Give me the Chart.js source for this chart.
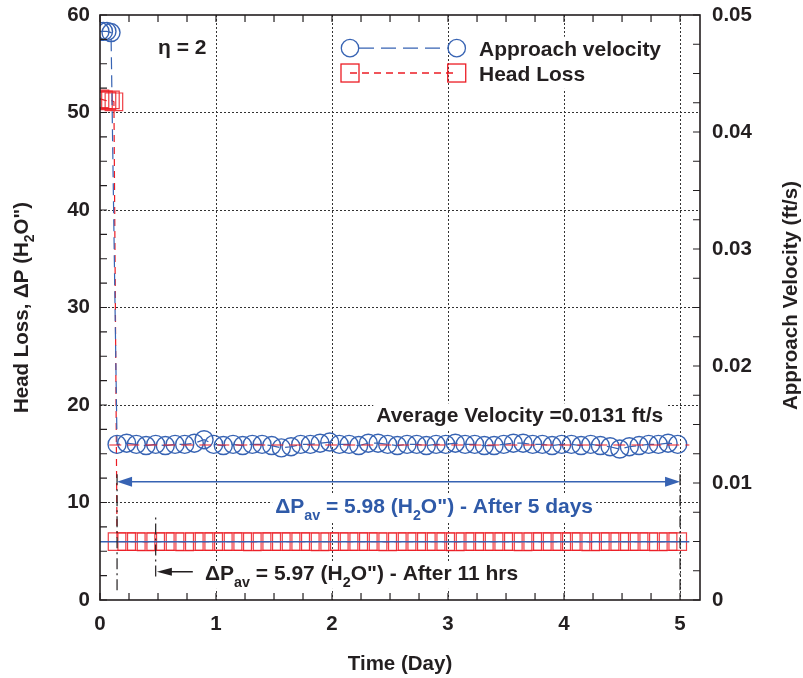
<!DOCTYPE html>
<html>
<head>
<meta charset="utf-8">
<script src="https://cdn.jsdelivr.net/npm/chart.js@4.4.1/dist/chart.umd.min.js"></script>
<style>
  html, body { margin: 0; padding: 0; background: #fff; }
  canvas { display: block; }
</style>
</head>
<body>
<canvas id="chart" width="803" height="678"></canvas>
<script>
//-----------------------------------------------------------------------------
// data
//-----------------------------------------------------------------------------
// start-up readings, before the flow settles
const startVelDays   = [0, 0.03, 0.06, 0.095];
const startVelocity  = [0.0486, 0.0486, 0.0486, 0.0485];
const startLossDays  = [0, 0.03, 0.06, 0.09, 0.12];
const startHeadLoss  = [51.4, 51.3, 51.2, 51.3, 51.1];

// steady readings, roughly every 2 hrs
const days = [
  0.147, 0.230, 0.313, 0.397, 0.480, 0.563, 0.647, 0.730, 0.813, 0.897,
  0.980, 1.063, 1.147, 1.230, 1.313, 1.397, 1.480, 1.563, 1.647, 1.730,
  1.813, 1.897, 1.980, 2.063, 2.147, 2.230, 2.313, 2.397, 2.480, 2.563,
  2.647, 2.730, 2.813, 2.897, 2.980, 3.063, 3.147, 3.230, 3.313, 3.397,
  3.480, 3.563, 3.647, 3.730, 3.813, 3.897, 3.980, 4.063, 4.147, 4.230,
  4.313, 4.397, 4.480, 4.563, 4.647, 4.730, 4.813, 4.897, 4.980];
const velocity = [
  0.0133, 0.0134, 0.0133, 0.0132, 0.0133, 0.0132, 0.0133, 0.0133, 0.0134, 0.0137,
  0.0133, 0.0132, 0.0133, 0.0132, 0.0133, 0.0133, 0.0132, 0.0130, 0.0131, 0.0133,
  0.0133, 0.0134, 0.0135, 0.0133, 0.0133, 0.0132, 0.0134, 0.0134, 0.0133, 0.0132,
  0.0133, 0.0133, 0.0132, 0.0133, 0.0133, 0.0134, 0.0133, 0.0133, 0.0132, 0.0132,
  0.0133, 0.0134, 0.0134, 0.0133, 0.0133, 0.0132, 0.0133, 0.0133, 0.0132, 0.0133,
  0.0132, 0.0131, 0.0129, 0.0131, 0.0132, 0.0133, 0.0133, 0.0134, 0.0133];
const headLoss = [
  5.99, 5.98, 5.98, 5.97, 5.98, 5.99, 5.98, 5.97, 5.98, 5.98,
  5.99, 5.98, 5.98, 5.98, 5.97, 5.98, 5.99, 5.98, 5.98, 5.98,
  5.98, 5.97, 5.98, 5.98, 5.99, 5.98, 5.98, 5.98, 5.97, 5.98,
  5.98, 5.99, 5.98, 5.98, 5.98, 5.97, 5.98, 5.98, 5.99, 5.98,
  5.98, 5.98, 5.97, 5.98, 5.98, 5.99, 5.98, 5.98, 5.98, 5.97,
  5.98, 5.98, 5.99, 5.98, 5.98, 5.98, 5.97, 5.98, 5.98];

// average lines
const avgVelLine  = { from: 0.08, to: 5.08, value: 0.01325 };
const avgLossLine = { from: 0.0,  to: 5.08, value: 5.98 };

// tick labels
const dayLabels      = ["0", "1", "2", "3", "4", "5"];
const headLossLabels = ["0", "10", "20", "30", "40", "50", "60"];
const velocityLabels = ["0", "0.01", "0.02", "0.03", "0.04", "0.05"];

// annotation marks, in data units (days / head loss)
const markerLines = [ [0.147, 1.0, 13.0], [0.48, 2.4, 8.5], [5.0, 1.0, 13.4] ];
const spanArrow   = { from: 0.147, to: 5.0, y: 12.13 };
const hrsArrow    = { tail: 0.80, tip: 0.49, y: 2.9 };

//-----------------------------------------------------------------------------
const ink  = "#231f20";
const blue = "#3763b3";
const blueText = "#2f5aa8";
const red  = "#ec1c24";
const FONT = '"Liberation Sans", Arial, Helvetica, sans-serif';
const f = (sz) => `bold ${sz}px ${FONT}`;

const pts = (xs, ys) => xs.map((x, i) => ({ x, y: ys[i] }));
const isMajor = (v, step) => Math.abs(v / step - Math.round(v / step)) < 1e-6;

// text with subscripts, parts = [[text, isSub], ...]; y is the baseline
function richWidth(ctx, parts, sz) {
    let w = 0;
    parts.forEach(([t, sub]) => { ctx.font = f(sub ? sz * 0.68 : sz); w += ctx.measureText(t).width; });
    return w;
}
function drawRich(ctx, parts, x, y, sz, color, align, boxed) {
    const w = richWidth(ctx, parts, sz);
    let cx = align === "center" ? x - w / 2 : align === "right" ? x - w : x;
    if (boxed) {
        ctx.fillStyle = "#fff";
        ctx.fillRect(cx - 3, y - sz * 0.9, w + 6, sz * 1.3);
    }
    ctx.fillStyle = color;
    ctx.textAlign = "left";
    ctx.textBaseline = "alphabetic";
    parts.forEach(([t, sub]) => {
        ctx.font = f(sub ? sz * 0.68 : sz);
        ctx.fillText(t, cx, y + (sub ? sz * 0.3 : 0));
        cx += ctx.measureText(t).width;
    });
}
function arrowHead(ctx, x, y, dir, len, half, color) {
    ctx.fillStyle = color;
    ctx.beginPath();
    ctx.moveTo(x, y);
    ctx.lineTo(x - dir * len, y - half);
    ctx.lineTo(x - dir * len, y + half);
    ctx.closePath();
    ctx.fill();
}

//-----------------------------------------------------------------------------
// frame, inward ticks, notes, legend, axis titles
//-----------------------------------------------------------------------------
const decorPlugin = {
    id: "decor",
    afterDatasetsDraw(chart) {
        const { ctx, scales } = chart;
        const X = scales.x, Y = scales.y;
        const px = (d) => X.getPixelForValue(d);
        const py = (v) => Y.getPixelForValue(v);
        ctx.save();

        // dash-dot marker lines
        ctx.strokeStyle = ink;
        ctx.lineWidth = 1.2;
        ctx.setLineDash([11, 4, 2, 4]);
        markerLines.forEach(([d, y0, y1]) => {
            ctx.beginPath();
            ctx.moveTo(px(d), py(y0));
            ctx.lineTo(px(d), py(y1));
            ctx.stroke();
        });
        ctx.setLineDash([]);

        // 5 day span arrow
        ctx.strokeStyle = blue;
        ctx.lineWidth = 1.5;
        ctx.beginPath();
        ctx.moveTo(px(spanArrow.from) + 4, py(spanArrow.y));
        ctx.lineTo(px(spanArrow.to) - 4, py(spanArrow.y));
        ctx.stroke();
        arrowHead(ctx, px(spanArrow.from), py(spanArrow.y), -1, 15, 5, blue);
        arrowHead(ctx, px(spanArrow.to), py(spanArrow.y), 1, 15, 5, blue);

        // 11 hrs arrow
        ctx.strokeStyle = ink;
        ctx.lineWidth = 1.3;
        ctx.beginPath();
        ctx.moveTo(px(hrsArrow.tail), py(hrsArrow.y));
        ctx.lineTo(px(hrsArrow.tip) + 4, py(hrsArrow.y));
        ctx.stroke();
        arrowHead(ctx, px(hrsArrow.tip), py(hrsArrow.y), -1, 15, 4, ink);

        // notes
        drawRich(ctx, [["Average Velocity =0.0131 ft/s", false]], px(4.855), py(19.0) + 7.5, 21, ink, "right", true);
        drawRich(ctx, [["\u0394P", false], ["av", true], [" = 5.98 (H", false], ["2", true], ["O\") - After 5 days", false]],
            px(1.51), py(9.65) + 7.5, 21, blueText, "left", true);
        drawRich(ctx, [["\u0394P", false], ["av", true], [" = 5.97 (H", false], ["2", true], ["O\") - After 11 hrs", false]],
            px(0.905), py(2.77) + 7.5, 21, ink, "left", true);
        drawRich(ctx, [["\u03b7 = 2", false]], px(0.5), py(56.8) + 7.5, 21, ink, "left", true);

        // legend
        const lx0 = px(2.155), lx1 = px(3.075), tx = px(3.267);
        const r1 = py(56.6), r2 = py(54.05);
        ctx.lineWidth = 1.3;
        ctx.strokeStyle = blue;
        ctx.setLineDash([15, 7]);
        ctx.beginPath(); ctx.moveTo(lx0 + 9, r1); ctx.lineTo(lx1 - 9, r1); ctx.stroke();
        ctx.setLineDash([]);
        [lx0, lx1].forEach(x => { ctx.beginPath(); ctx.arc(x, r1, 8.7, 0, Math.PI * 2); ctx.stroke(); });
        ctx.strokeStyle = red;
        ctx.setLineDash([7, 5]);
        ctx.beginPath(); ctx.moveTo(lx0, r2); ctx.lineTo(lx1, r2); ctx.stroke();
        ctx.setLineDash([]);
        [lx0, lx1].forEach(x => ctx.strokeRect(x - 9, r2 - 9, 18, 18));
        drawRich(ctx, [["Approach velocity", false]], tx, r1 + 7.5, 21, ink, "left", true);
        drawRich(ctx, [["Head Loss", false]], tx, r2 + 7.5, 21, ink, "left", true);

        ctx.restore();
    },
    afterDraw(chart) {
        const { ctx, chartArea: a, scales } = chart;
        ctx.save();
        // frame
        ctx.strokeStyle = ink;
        ctx.lineWidth = 1.6;
        ctx.strokeRect(a.left, a.top, a.right - a.left, a.bottom - a.top);
        // inward ticks on all four sides
        const tl = 7;
        ctx.lineWidth = 1.2;
        ctx.beginPath();
        scales.x.ticks.forEach(t => {
            const x = scales.x.getPixelForValue(t.value);
            ctx.moveTo(x, a.bottom); ctx.lineTo(x, a.bottom - tl);
            ctx.moveTo(x, a.top);    ctx.lineTo(x, a.top + tl);
        });
        scales.y.ticks.forEach(t => {
            const y = scales.y.getPixelForValue(t.value);
            ctx.moveTo(a.left, y); ctx.lineTo(a.left + tl, y);
        });
        scales.y2.ticks.forEach(t => {
            const y = scales.y2.getPixelForValue(t.value);
            ctx.moveTo(a.right, y); ctx.lineTo(a.right - tl, y);
        });
        ctx.stroke();

        // axis titles
        drawRich(ctx, [["Time (Day)", false]], (a.left + a.right) / 2, 670, 20.5, ink, "center", false);
        ctx.save();
        ctx.translate(28, (a.top + a.bottom) / 2);
        ctx.rotate(-Math.PI / 2);
        drawRich(ctx, [["Head Loss, \u0394P (H", false], ["2", true], ["O\")", false]], 0, 0, 20.5, ink, "center", false);
        ctx.restore();
        ctx.save();
        ctx.translate(797, (a.top + a.bottom) / 2 - 12);
        ctx.rotate(-Math.PI / 2);
        drawRich(ctx, [["Approach Velocity (ft/s)", false]], 0, 0, 20.5, ink, "center", false);
        ctx.restore();
        ctx.restore();
    }
};

//-----------------------------------------------------------------------------
const gridColor = (step, lo, hi) => (c) =>
    (c.tick && isMajor(c.tick.value, step) && c.tick.value > lo && c.tick.value < hi) ? "#333" : "transparent";
const tickFont = { family: FONT, size: 20.5, weight: "bold" };
// fixed box sizes so the plot area lands where the picture has it
const fixSide = (w) => (s) => { s.width = w; s.paddingTop = 0; s.paddingBottom = 0; };

const ctx = document.getElementById("chart").getContext("2d");
new Chart(ctx, {
    type: "scatter",
    data: {
        datasets: [
            {   // average velocity line
                data: [{ x: avgVelLine.from, y: avgVelLine.value }, { x: avgVelLine.to, y: avgVelLine.value }],
                yAxisID: "y2", showLine: true, pointRadius: 0,
                borderColor: red, borderWidth: 1.2, borderDash: [12, 6]
            },
            {   // average head loss line
                data: [{ x: avgLossLine.from, y: avgLossLine.value }, { x: avgLossLine.to, y: avgLossLine.value }],
                yAxisID: "y", showLine: true, pointRadius: 0,
                borderColor: blue, borderWidth: 1.5
            },
            {
                label: "Approach velocity",
                data: pts(startVelDays.concat(days), startVelocity.concat(velocity)),
                yAxisID: "y2", showLine: true,
                borderColor: blue, borderWidth: 1.2, borderDash: [12, 6],
                pointStyle: "circle", pointRadius: 9, pointBorderWidth: 1.4,
                pointBorderColor: blue, pointBackgroundColor: "transparent"
            },
            {
                label: "Head Loss",
                data: pts(startLossDays.concat(days), startHeadLoss.concat(headLoss)),
                yAxisID: "y", showLine: true,
                borderColor: red, borderWidth: 1.2, borderDash: [7, 5],
                pointStyle: "rect", pointRadius: 12.4, pointBorderWidth: 1.2,
                pointBorderColor: "rgba(236,28,36,0.85)", pointBackgroundColor: "transparent"
            }
        ]
    },
    options: {
        responsive: false,
        animation: false,
        events: [],
        layout: { padding: { top: 15, left: 0, right: 0, bottom: 0 } },
        plugins: { legend: { display: false }, tooltip: { enabled: false } },
        scales: {
            x: {
                type: "linear", position: "bottom", min: 0, max: 5.172,
                afterFit: s => { s.height = 78; s.paddingLeft = 0; s.paddingRight = 0; },
                grid: { color: gridColor(1, 0, 5.1), lineWidth: 1, drawTicks: false },
                border: { display: false, dash: [2, 2] },
                ticks: {
                    stepSize: 0.25, includeBounds: false, autoSkip: false, maxRotation: 0,
                    padding: 12, color: ink, font: tickFont,
                    callback: v => isMajor(v, 1) ? (dayLabels[Math.round(v)] ?? "") : ""
                }
            },
            y: {
                type: "linear", position: "left", min: 0, max: 60,
                afterFit: fixSide(100),
                grid: { color: gridColor(10, 0, 60), lineWidth: 1, drawTicks: false },
                border: { display: false, dash: [2, 2] },
                ticks: {
                    stepSize: 2.5, autoSkip: false, padding: 10, color: ink, font: tickFont,
                    callback: v => isMajor(v, 10) ? (headLossLabels[Math.round(v / 10)] ?? "") : ""
                }
            },
            y2: {
                type: "linear", position: "right", min: 0, max: 0.05,
                afterFit: fixSide(103),
                grid: { drawOnChartArea: false, drawTicks: false },
                border: { display: false },
                ticks: {
                    stepSize: 0.0025, autoSkip: false, padding: 12, color: ink, font: tickFont,
                    callback: v => isMajor(v, 0.01) ? (velocityLabels[Math.round(v / 0.01)] ?? "") : ""
                }
            }
        }
    },
    plugins: [decorPlugin]
});
</script>
</body>
</html>
